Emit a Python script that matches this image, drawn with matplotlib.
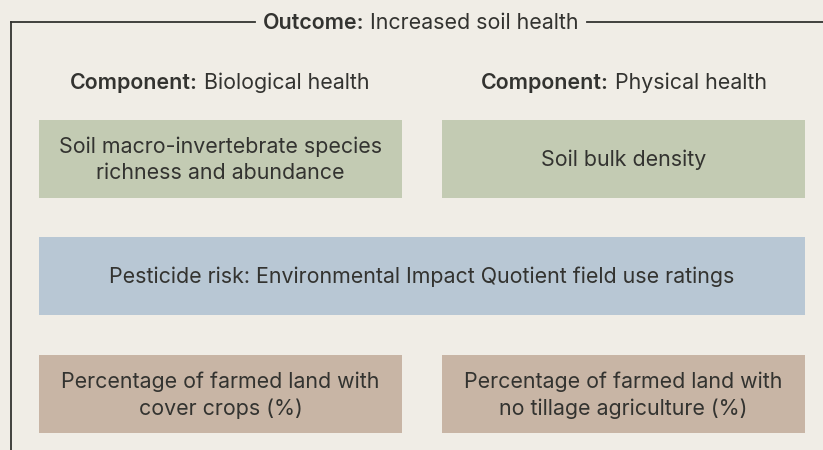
import matplotlib.pyplot as plt
from matplotlib.patches import Rectangle

# diagram content
outcome_label = "Outcome:"
outcome_text = " Increased soil health"
component_labels = ["Component:", "Component:"]
component_texts = [" Biological health", " Physical health"]
indicator_rows = [
    ["Soil macro-invertebrate species\nrichness and abundance", "Soil bulk density"],
    ["Pesticide risk: Environmental Impact Quotient field use ratings"],
    ["Percentage of farmed land with\ncover crops (%)", "Percentage of farmed land with\nno tillage agriculture (%)"],
]
row_colors = ["#c3cbb3", "#b8c7d4", "#c8b5a5"]

bg = "#f0ede6"
ink = "#333330"
font = "Inter"
fs = 15.4

fig = plt.figure(figsize=(8.23, 4.5), dpi=100, facecolor=bg)
ax = fig.add_axes([0, 0, 1, 1])
ax.set_xlim(0, 823)
ax.set_ylim(450, 0)
ax.axis("off")
ax.set_facecolor(bg)
renderer = fig.canvas.get_renderer()


def two_part(xc, y, bold, normal):
    # bold label followed by regular text, centred as one
    t1 = ax.text(0, y, bold, fontweight="semibold", fontsize=fs, family=font,
                 color=ink, va="center", ha="left")
    t2 = ax.text(0, y, normal, fontsize=fs, family=font, color=ink,
                 va="center", ha="left")
    inv = ax.transData.inverted()
    b1 = t1.get_window_extent(renderer)
    b2 = t2.get_window_extent(renderer)
    w1 = inv.transform((b1.x1, 0))[0] - inv.transform((b1.x0, 0))[0]
    w2 = inv.transform((b2.x1, 0))[0] - inv.transform((b2.x0, 0))[0]
    x0 = xc - (w1 + w2) / 2
    t1.set_x(x0)
    t2.set_x(x0 + w1)
    return x0, x0 + w1 + w2


# frame with title
left, right = 11, 823
start, end = two_part(421, 23, outcome_label, outcome_text)
ax.plot([left, start - 8], [22, 22], color=ink, lw=1.3)
ax.plot([end + 8, right], [22, 22], color=ink, lw=1.3)
ax.plot([left, left], [22, 450], color=ink, lw=1.3)

# component headings
for xc, b, n in zip([220, 624], component_labels, component_texts):
    two_part(xc, 83, b, n)

# indicator boxes
row_tops = [120, 237, 355]
row_h = 78
for top, row, col in zip(row_tops, indicator_rows, row_colors):
    if len(row) == 1:
        spans = [(39, 805)]
    else:
        spans = [(39, 402), (442, 805)]
    for (x0, x1), label in zip(spans, row):
        ax.add_patch(Rectangle((x0, top), x1 - x0, row_h, facecolor=col,
                               edgecolor="none"))
        ax.text((x0 + x1) / 2, top + row_h / 2 + 1, label, ha="center",
                va="center", fontsize=fs, family=font, color=ink,
                linespacing=1.4)

fig.savefig("out.png", dpi=100, facecolor=bg)
